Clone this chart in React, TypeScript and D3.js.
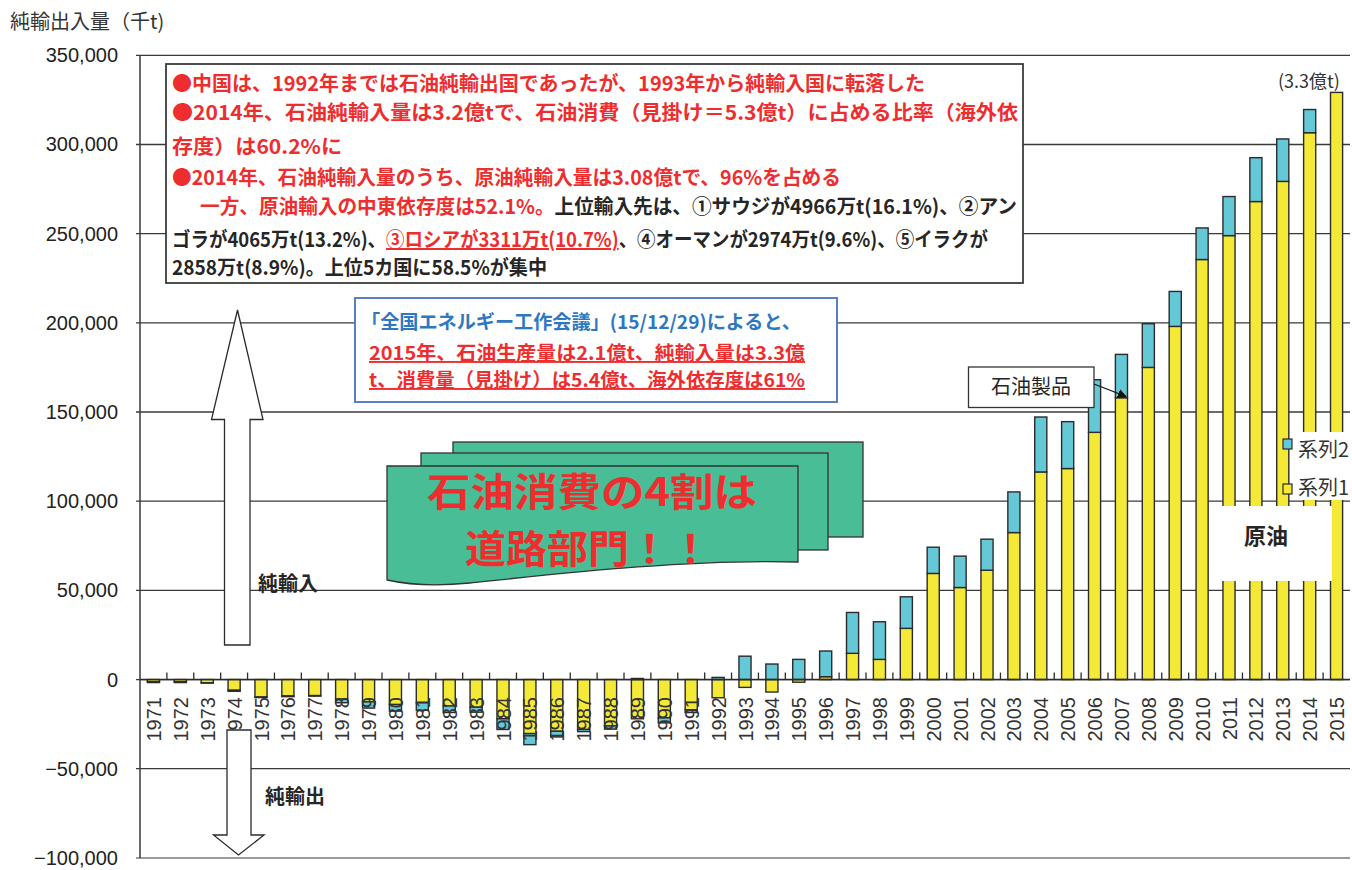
import React from 'react';
import * as d3 from 'd3';

const years = [
  '1971','1972','1973','1974','1975','1976','1977','1978','1979','1980',
  '1981','1982','1983','1984','1985','1986','1987','1988','1989','1990',
  '1991','1992','1993','1994','1995','1996','1997','1998','1999','2000',
  '2001','2002','2003','2004','2005','2006','2007','2008','2009','2010',
  '2011','2012','2013','2014','2015'
];
// 系列1 = 原油 (crude), 系列2 = 石油製品 (products), 千t
const crude = [
  -1200, -1200, -1800, -6000, -9800, -9200, -9000, -11000, -12500, -14000,
  -13000, -14800, -15500, -22000, -30300, -29000, -28000, -26000, -22000, -21500,
  -17000, -10200, -4400, -7000, -1500, 1600, 14700, 11300, 28700, 59500,
  51600, 61300, 82400, 116400, 118300, 138600, 158000, 175000, 198000, 235500,
  248900, 268000, 279300, 306600, 329200
];
const products = [
  -500, -500, -200, -600, -300, -400, -300, -2000, -3500, -3700,
  -4200, -3700, -2800, -6000, -6200, -3200, -1200, -1800, 600, -2800,
  -1500, 1200, 13100, 8700, 11300, 14400, 22900, 21100, 17700, 14700,
  17600, 17400, 22800, 30800, 26300, 29500, 24300, 24500, 19600, 17700,
  21900, 24600, 23800, 13000, 0
];
const yTicks = [-100000, -50000, 0, 50000, 100000, 150000, 200000, 250000, 300000, 350000];
const seriesKeys = ['crude', 'products'];
const seriesColors = ['#F3E936', '#64C8D6'];
const legendLabels = ['系列2', '系列1'];

const RED = '#EE2E2E';
const DARK = '#262626';
const JP = '"Noto Sans CJK JP", "Noto Sans", sans-serif';
const LAT = '"Liberation Sans", Arial, sans-serif';

export default function App() {
  const W = 1352, H = 870;
  const x = d3.scaleBand<string>().domain(years).range([140, 1350]).paddingInner(0.55).paddingOuter(0.275);
  const y = d3.scaleLinear().domain([-100000, 350000]).range([857.9, 55.3]);
  const table = years.map((yr, i) => ({ year: yr, crude: crude[i], products: products[i] }));
  const stacked = d3.stack<any>().keys(seriesKeys).offset(d3.stackOffsetDiverging)(table);
  const fmt = d3.format(',');
  const step = x.step();
  const gap = (step - x.bandwidth()) / 2;

  const front = 'M387,466 H798 V562 C690,559 565,573 470,583 C430,587 405,584 387,580 Z';

  return (
    <svg width={W} height={H} style={{ position: 'absolute', left: 0, top: 0, background: '#fff' }}>
      <defs>
        <marker id="ah" viewBox="0 0 10 10" refX="9" refY="5" markerWidth="7" markerHeight="7" orient="auto">
          <path d="M0,0 L10,5 L0,10 Z" fill="#111" />
        </marker>
      </defs>
      <rect x={0} y={0} width={W} height={H} fill="#fff" />
      {/* title */}
      <text x={10} y={29} fontFamily={JP} fontSize={20} fill="#333">純輸出入量（千t)</text>

      {/* gridlines */}
      {yTicks.map((t) => (
        <line key={t} x1={136} x2={1350} y1={y(t)} y2={y(t)}
          stroke={t === -100000 ? '#9a9a9a' : '#3a3a3a'} strokeWidth={t === -100000 ? 2 : 1.3} />
      ))}
      {/* y axis */}
      <line x1={140} x2={140} y1={y(350000)} y2={y(-100000)} stroke="#3a3a3a" strokeWidth={1.5} />
      {yTicks.map((t) => (
        <text key={'l' + t} x={118} y={y(t) + 7} textAnchor="end" fontFamily={LAT} fontSize={20} fill="#222">{fmt(t)}</text>
      ))}

      {/* bars */}
      {stacked.map((s, si) => (
        <g key={s.key}>
          {s.map((d: any, i: number) => {
            const y0 = y(d[0]), y1 = y(d[1]);
            const top = Math.min(y0, y1), h = Math.abs(y1 - y0);
            if (h < 0.01) return null;
            return (
              <rect key={i} x={x(years[i])} y={top} width={x.bandwidth()} height={h}
                fill={seriesColors[si]} stroke="#2b2b2b" strokeWidth={1.4} />
            );
          })}
        </g>
      ))}

      {/* zero axis + category ticks */}
      <line x1={140} x2={1350} y1={y(0)} y2={y(0)} stroke="#2b2b2b" strokeWidth={1.5} />
      {years.map((yr, i) => i === 0 ? null : (
        <line key={'t' + yr} x1={(x(yr) as number) - gap} x2={(x(yr) as number) - gap} y1={y(0)} y2={y(0) - 7} stroke="#2b2b2b" strokeWidth={1.3} />
      ))}
      {/* year labels */}
      {years.map((yr) => {
        const cx = (x(yr) as number) + x.bandwidth() / 2;
        return (
          <text key={'y' + yr} transform={`translate(${cx + 7.5},697) rotate(-90)`} textAnchor="end"
            fontFamily={LAT} fontSize={20} fill="#333">{yr}</text>
        );
      })}

      {/* main text box */}
      <rect x={166} y={64} width={857} height={219} fill="#fff" stroke="#3c3c3c" strokeWidth={1.8} />
      <g fontFamily={JP} fontSize={20} fontWeight={700}>
        <text x={172} y={91} fill={RED} textLength={753} lengthAdjust="spacingAndGlyphs">●中国は、1992年までは石油純輸出国であったが、1993年から純輸入国に転落した</text>
        <text x={172} y={120} fill={RED} textLength={846} lengthAdjust="spacingAndGlyphs">●2014年、石油純輸入量は3.2億tで、石油消費（見掛け＝5.3億t）に占める比率（海外依</text>
        <text x={172} y={154} fill={RED} textLength={170} lengthAdjust="spacingAndGlyphs">存度）は60.2%に</text>
        <text x={172} y={185} fill={RED} textLength={669} lengthAdjust="spacingAndGlyphs">●2014年、石油純輸入量のうち、原油純輸入量は3.08億tで、96%を占める</text>
        <text x={200} y={214} textLength={817} lengthAdjust="spacingAndGlyphs">
          <tspan fill={RED}>一方、原油輸入の中東依存度は52.1%。</tspan>
          <tspan fill={DARK}>上位輸入先は、①サウジが4966万t(16.1%)、②アン</tspan>
        </text>
        <text x={172} y={247} textLength={816} lengthAdjust="spacingAndGlyphs">
          <tspan fill={DARK}>ゴラが4065万t(13.2%)、</tspan>
          <tspan fill={RED} style={{ textDecoration: 'underline' }}>③ロシアが3311万t(10.7%)</tspan>
          <tspan fill={DARK}>、④オーマンが2974万t(9.6%)、⑤イラクが</tspan>
        </text>
        <text x={172} y={275} fill={DARK} textLength={375} lengthAdjust="spacingAndGlyphs">2858万t(8.9%)。上位5カ国に58.5%が集中</text>
      </g>

      {/* second text box */}
      <rect x={355} y={298} width={482} height={104} fill="#fff" stroke="#4A72C0" strokeWidth={1.8} />
      <g fontFamily={JP} fontSize={19} fontWeight={700}>
        <text x={361} y={329} fill="#2E78C2" textLength={440} lengthAdjust="spacingAndGlyphs">「全国エネルギー工作会議」(15/12/29)によると、</text>
        <text x={369} y={360} fill={RED} textLength={436} lengthAdjust="spacingAndGlyphs" style={{ textDecoration: 'underline' }}>2015年、石油生産量は2.1億t、純輸入量は3.3億</text>
        <text x={369} y={387} fill={RED} textLength={436} lengthAdjust="spacingAndGlyphs" style={{ textDecoration: 'underline' }}>t、消費量（見掛け）は5.4億t、海外依存度は61%</text>
      </g>

      {/* green multi-document shape */}
      <rect x={453} y={442} width={410} height={95} fill="#49BD95" stroke="#333" strokeWidth={1.3} />
      <rect x={421} y={453} width={407} height={97} fill="#49BD95" stroke="#333" strokeWidth={1.3} />
      <path d={front} fill="#49BD95" stroke="#333" strokeWidth={1.3} />
      <g fontFamily={JP} fontSize={39} fontWeight={700} fill={RED} textAnchor="middle">
        <text x={592} y={506} textLength={330} lengthAdjust="spacingAndGlyphs">石油消費の4割は</text>
        <text x={588} y={563} textLength={246} lengthAdjust="spacingAndGlyphs">道路部門！！</text>
      </g>

      {/* arrows */}
      <path d="M224.5,645 V419.5 H211.5 L237.5,310 L263,419.5 H250 V645 Z" fill="#fff" stroke="#2b2b2b" strokeWidth={1.3} />
      <text x={258} y={591} fontFamily={JP} fontSize={20} fontWeight={700} fill={DARK}>純輸入</text>
      <path d="M227,730 V835 H213.5 L238.5,855 L264,835 H251 V730 Z" fill="#fff" stroke="#2b2b2b" strokeWidth={1.3} />
      <text x={265} y={804} fontFamily={JP} fontSize={20} fontWeight={700} fill={DARK}>純輸出</text>

      {/* 石油製品 callout */}
      <rect x={968.5} y={367} width={125.5} height={40.5} fill="#fff" stroke="#333" strokeWidth={1.3} />
      <text x={1031} y={394} textAnchor="middle" fontFamily={JP} fontSize={20} fill={DARK}>石油製品</text>
      <line x1={1094} y1={384} x2={1126} y2={396.5} stroke="#111" strokeWidth={1.3} markerEnd="url(#ah)" />

      {/* legend */}
      <rect x={1296} y={432} width={56} height={68} fill="#fff" />
      {[seriesColors[1], seriesColors[0]].map((c, i) => (
        <g key={'lg' + i}>
          <rect x={1283} y={i === 0 ? 439 : 484} width={9} height={10} fill={c} stroke="#2b2b2b" strokeWidth={1.2} />
          <text x={1298} y={i === 0 ? 457 : 495} fontFamily={JP} fontSize={20} fill="#333">{legendLabels[i]}</text>
        </g>
      ))}

      {/* 原油 label */}
      <rect x={1212} y={506} width={120} height={75} fill="#fff" />
      <text x={1266} y={544} textAnchor="middle" fontFamily={JP} fontSize={22} fontWeight={700} fill={DARK}>原油</text>

      {/* total label */}
      <text x={1278} y={88} fontFamily={JP} fontSize={18} fill="#333">(3.3億t)</text>
    </svg>
  );
}
